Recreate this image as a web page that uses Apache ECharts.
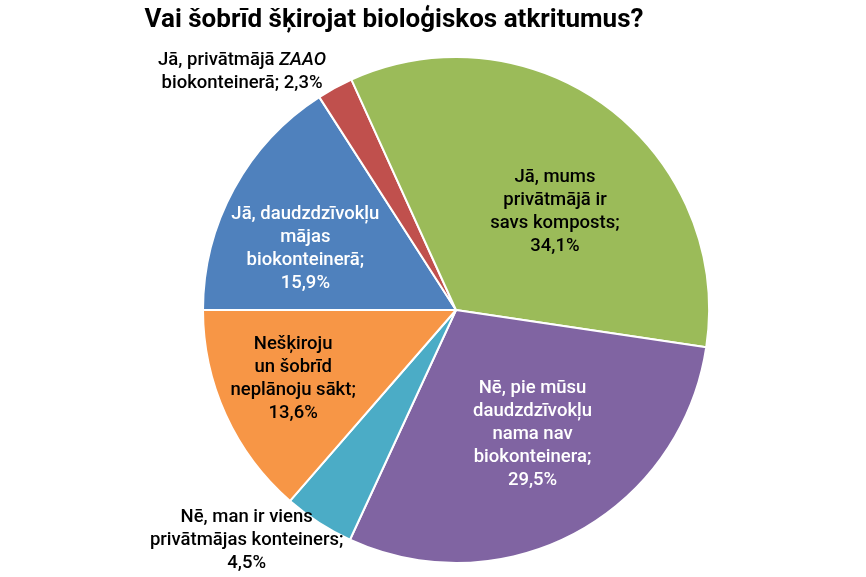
<!DOCTYPE html>
<html>
<head>
<meta charset="utf-8">
<script src="https://cdn.jsdelivr.net/npm/echarts@6/dist/echarts.min.js"></script>
<style>
  html, body { margin: 0; padding: 0; background: #fff; }
  #chart { width: 866px; height: 577px; }
</style>
</head>
<body>
<div id="chart"></div>
<script>
const categories = [
  'Jā, daudzdzīvokļu mājas biokonteinerā',
  'Jā, privātmājā ZAAO biokonteinerā',
  'Jā, mums privātmājā ir savs komposts',
  'Nē, pie mūsu daudzdzīvokļu nama nav biokonteinera',
  'Nē, man ir viens privātmājas konteiners',
  'Nešķiroju un šobrīd neplānoju sākt'
];
const values = [15.9, 2.3, 34.1, 29.5, 4.5, 13.6];
// teksts uzlīmēm ar rindu pārnesumiem (vērtība tiek pielikta beigās)
const labelText = [
  'Jā, daudzdzīvokļu\nmājas\nbiokonteinerā;\n',
  'Jā, privātmājā {i|ZAAO}\nbiokonteinerā; ',
  'Jā, mums\nprivātmājā ir\nsavs komposts;\n',
  'Nē, pie mūsu\ndaudzdzīvokļu\nnama nav\nbiokonteinera;\n',
  'Nē, man ir viens\nprivātmājas konteiners;\n',
  'Nešķiroju\nun šobrīd\nneplānoju sākt;\n'
];

const colors = ['#4F81BD', '#C0504D', '#9BBB59', '#8064A2', '#4BACC6', '#F79646'];
const labelColors = ['#fff', '#000', '#000', '#fff', '#000', '#000'];
// nobīdes no noklusētās "inside" vietas
const labelShift = [[-37, 1], [-152, -124], [21, 5], [15, 10], [-139, 122], [-45, 15]];

const FONT = "'Roboto', sans-serif";

const chart = echarts.init(document.getElementById('chart'));

chart.setOption({
  animation: false,
  title: {
    text: 'Vai šobrīd šķirojat bioloģiskos atkritumus?',
    left: 389,
    top: 2,
    textAlign: 'center',
    textStyle: {
      fontFamily: FONT,
      fontSize: 26,
      fontWeight: 'bold',
      color: '#000'
    }
  },
  series: [
    {
      type: 'pie',
      center: [456, 310],
      radius: 253,
      startAngle: 180,
      clockwise: true,
      avoidLabelOverlap: false,
      itemStyle: { borderColor: '#fff', borderWidth: 2 },
      label: {
        show: true,
        position: 'inside',
        fontFamily: FONT,
        fontSize: 18.5,
        fontWeight: 500,
        lineHeight: 23,
        align: 'center',
        formatter: p => labelText[p.dataIndex] + values[p.dataIndex].toFixed(1).replace('.', ',') + '%',
        rich: {
          i: { fontFamily: FONT, fontSize: 18.5, fontWeight: 500, fontStyle: 'italic', lineHeight: 23 }
        }
      },
      labelLine: { show: false },
      labelLayout: p => ({ dx: labelShift[p.dataIndex][0], dy: labelShift[p.dataIndex][1] }),
      emphasis: { disabled: true },
      data: values.map((v, i) => ({
        name: categories[i],
        value: v,
        itemStyle: { color: colors[i] },
        label: { color: labelColors[i] }
      }))
    }
  ]
});
</script>
</body>
</html>
